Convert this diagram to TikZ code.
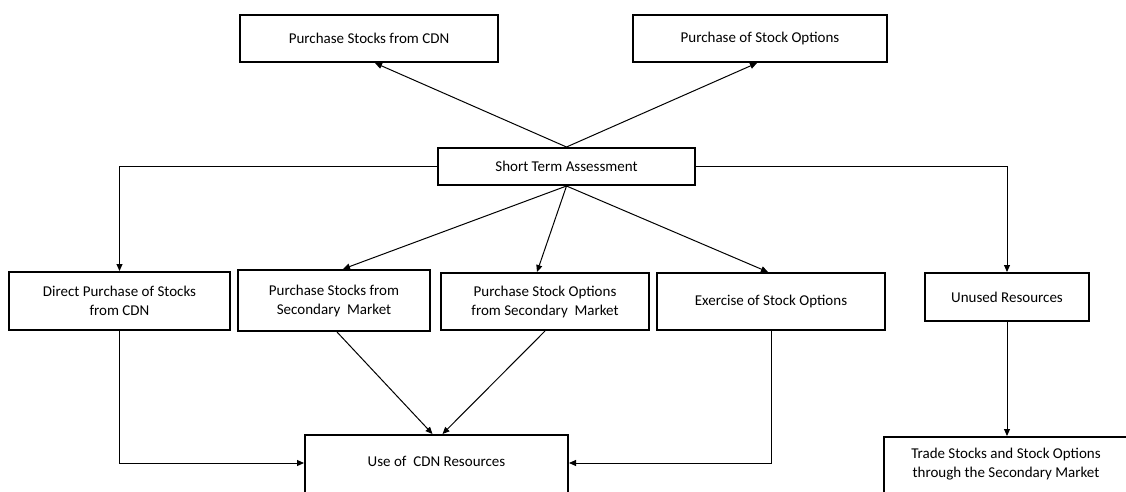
\documentclass[tikz,border=0pt]{standalone}
\usepackage{fontspec}
\setmainfont{Carlito}
\usetikzlibrary{arrows.meta,calc}
\tikzset{
  box/.style={draw=black, line width=2pt, fill=white, align=center, inner sep=2pt,
    font=\fontsize{15}{19}\selectfont},
  conn/.style={draw=black, line width=1pt},
  arr/.style={conn, -{Triangle[length=7pt,width=6pt]}}
}
\begin{document}
\begin{tikzpicture}[x=1pt,y=-1pt]
\useasboundingbox[fill=white] (0,0) rectangle (1126,491);
% boxes
\node[box, minimum width=258, minimum height=47] (A) at (369,38.5) {Purchase Stocks from CDN};
\node[box, minimum width=254, minimum height=47] (B) at (760,38.5) {Purchase of Stock Options};
\node[box, minimum width=257, minimum height=37] (ST) at (566.5,166.5) {Short Term Assessment};
\node[box, minimum width=221, minimum height=58] (D) at (119.5,301) {Direct Purchase of Stocks\\from CDN};
\node[box, minimum width=192, minimum height=61] (PSSM) at (334,300.5) {Purchase Stocks from\\Secondary\ \ Market};
\node[box, minimum width=208, minimum height=57] (PSOSM) at (545,301.5) {Purchase Stock Options\\from Secondary\ \ Market};
\node[box, minimum width=228, minimum height=57] (EX) at (771,301.5) {Exercise of Stock Options};
\node[box, minimum width=164, minimum height=48] (UN) at (1007,297) {Unused Resources};
\node[box, anchor=north, minimum width=263, inner ysep=20pt, text height=11pt, text depth=40pt] (USE) at (436.5,434) {Use of\ \ CDN Resources};
\node[box, anchor=north west, minimum width=244, inner ysep=10pt, text height=30pt, text depth=40pt] (TR) at (883,436) {Trade Stocks and Stock Options\\through the Secondary Market};
% connectors from Short Term Assessment
\draw[arr] (ST.north) -- ($(A.south)+(6,0)$);
\draw[arr] (ST.north) -- ($(B.south)+(-3,0)$);
\draw[arr] (ST.west) -| (D.north);
\draw[arr] (ST.east) -| (UN.north);
\draw[arr] (ST.south) -- ($(PSSM.north)+(9,0)$);
\draw[arr] (ST.south) -- ($(PSOSM.north)+(-8,0)$);
\draw[arr] (ST.south) -- ($(EX.north)+(-3,0)$);
% connectors into Use of CDN Resources
\draw[arr] (D.south) |- ($(USE.north west)+(0,29)$);
\draw[arr] (EX.south) |- ($(USE.north east)+(0,29)$);
\draw[arr] ($(PSSM.south)+(3,0)$) -- ($(USE.north)+(-4,0)$);
\draw[arr] (PSOSM.south) -- ($(USE.north)+(6,0)$);
% unused -> trade
\draw[arr] (UN.south) -- (UN.south |- TR.north);
\end{tikzpicture}
\end{document}
